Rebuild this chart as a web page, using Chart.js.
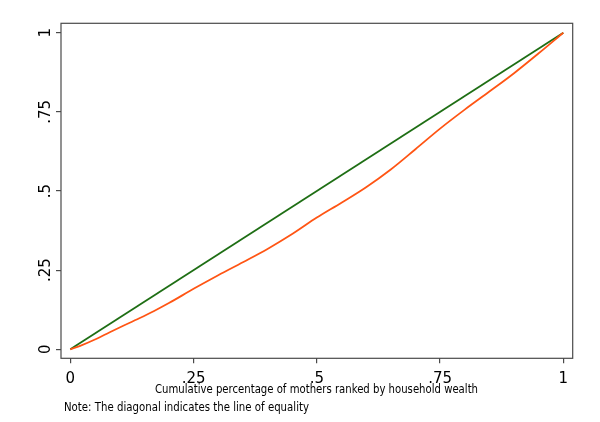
<!DOCTYPE html>
<html>
<head>
<meta charset="utf-8">
<script src="https://cdn.jsdelivr.net/npm/chart.js@4/dist/chart.umd.min.js"></script>
<style>
html,body{margin:0;padding:0;background:#fff;}
#wrap{width:600px;height:422px;position:relative;}
</style>
</head>
<body>
<div id="wrap"><canvas id="c" width="600" height="422"></canvas></div>
<script>
// ---- data ----
const cumX = [0, 0.02, 0.05, 0.08, 0.10, 0.14, 0.17, 0.20, 0.25, 0.30, 0.35, 0.40, 0.45, 0.50, 0.55, 0.60, 0.65, 0.70, 0.75, 0.80, 0.85, 0.90, 0.95, 1];
const concentrationY = [0, 0.011, 0.031, 0.054, 0.069, 0.098, 0.121, 0.146, 0.191, 0.234, 0.275, 0.317, 0.364, 0.416, 0.463, 0.512, 0.568, 0.632, 0.697, 0.757, 0.814, 0.872, 0.935, 1];
const equalityX = [0, 1];
const equalityY = [0, 1];
const xTicks = [0, 0.25, 0.5, 0.75, 1];
const yTicks = [0, 0.25, 0.5, 0.75, 1];
const tickLabels = ['0', '.25', '.5', '.75', '1'];
const xTitle = 'Cumulative percentage of mothers ranked by household wealth';
const noteText = 'Note: The diagonal indicates the line of equality';

const orangeData = cumX.map((x, i) => ({x: x, y: concentrationY[i]}));
const greenData = equalityX.map((x, i) => ({x: x, y: equalityY[i]}));

const FONT = '"DejaVu Sans", Verdana, sans-serif';

const decor = {
  id: 'decor',
  afterDraw(chart) {
    const ctx = chart.ctx;
    const a = chart.chartArea;
    const xs = chart.scales.x, ys = chart.scales.y;
    ctx.save();
    // frame
    ctx.strokeStyle = '#4a4a4a';
    ctx.lineWidth = 1.2;
    ctx.strokeRect(a.left, a.top, a.right - a.left, a.bottom - a.top);
    ctx.fillStyle = '#000';
    // x tick labels
    ctx.font = '15px ' + FONT;
    ctx.textAlign = 'center';
    ctx.textBaseline = 'alphabetic';
    xTicks.forEach((v, i) => {
      ctx.fillText(tickLabels[i], xs.getPixelForValue(v), 383);
    });
    // y tick labels rotated
    yTicks.forEach((v, i) => {
      ctx.save();
      ctx.translate(50, ys.getPixelForValue(v));
      ctx.rotate(-Math.PI / 2);
      ctx.fillText(tickLabels[i], 0, 0);
      ctx.restore();
    });
    // axis title
    ctx.font = '12px ' + FONT;
    ctx.textAlign = 'left';
    ctx.fillText(xTitle, 155, 392.5, 323);
    // note
    ctx.font = '11.5px ' + FONT;
    ctx.fillText(noteText, 64, 410.5, 245);
    ctx.restore();
  }
};

new Chart(document.getElementById('c'), {
  type: 'scatter',
  data: {
    datasets: [
      {
        label: 'Concentration curve',
        data: orangeData,
        showLine: true,
        borderColor: 'rgb(255,85,20)',
        borderWidth: 1.8,
        pointRadius: 0,
        cubicInterpolationMode: 'monotone',
        fill: false,
        order: 0
      },
      {
        label: 'Line of equality',
        data: greenData,
        showLine: true,
        borderColor: 'rgb(30,110,20)',
        borderWidth: 1.8,
        pointRadius: 0,
        fill: false,
        order: 1
      }
    ]
  },
  options: {
    responsive: false,
    animation: false,
    devicePixelRatio: 1,
    layout: { padding: { left: 0, right: 27.3, top: 23.3, bottom: 0 } },
    plugins: { legend: { display: false }, tooltip: { enabled: false }, title: { display: false } },
    scales: {
      x: {
        type: 'linear',
        min: -0.0189,
        max: 1.019,
        afterBuildTicks: s => { s.ticks = xTicks.map(v => ({value: v})); },
        afterFit: s => { s.height = 63.7; },
        ticks: { display: false },
        grid: { drawOnChartArea: false, drawTicks: true, tickLength: 5, color: '#4a4a4a', lineWidth: 1.2 },
        border: { display: false }
      },
      y: {
        type: 'linear',
        min: -0.0284,
        max: 1.0297,
        afterBuildTicks: s => { s.ticks = yTicks.map(v => ({value: v})); },
        afterFit: s => { s.width = 61; },
        ticks: { display: false },
        grid: { drawOnChartArea: false, drawTicks: true, tickLength: 5, color: '#4a4a4a', lineWidth: 1.2 },
        border: { display: false }
      }
    }
  },
  plugins: [decor]
});
</script>
</body>
</html>
